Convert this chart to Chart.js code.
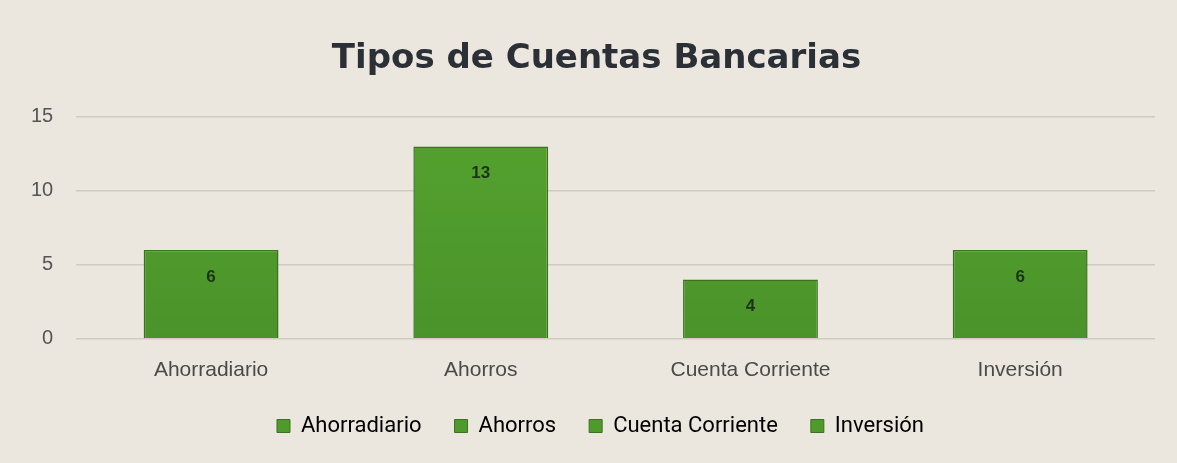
<!DOCTYPE html>
<html>
<head>
<meta charset="utf-8">
<script src="https://cdn.jsdelivr.net/npm/chart.js@4.4.1/dist/chart.umd.min.js"></script>
<style>
  html, body { margin: 0; padding: 0; background: #ebe7de; }
  #wrap { width: 1177px; height: 463px; position: relative; }
</style>
</head>
<body>
<div id="wrap"><canvas id="c" width="1177" height="463"></canvas></div>
<script>
const categories = ["Ahorradiario", "Ahorros", "Cuenta Corriente", "Inversión"];
const cuentas = [6, 13, 4, 6];
const yTicks = [0, 5, 10, 15];
const chartTitle = "Tipos de Cuentas Bancarias";

const GREEN = "#4e9a2b";
const GREEN_DARK = "#3b7120";

const dataLabelPlugin = {
  id: "dataLabels",
  afterDatasetsDraw(chart) {
    const ctx = chart.ctx;
    const meta = chart.getDatasetMeta(0);
    ctx.save();
    ctx.font = "bold 17px 'Liberation Sans', Arial, sans-serif";
    ctx.fillStyle = "#1c3318";
    ctx.textAlign = "center";
    ctx.textBaseline = "middle";
    meta.data.forEach((bar, i) => {
      ctx.fillText(String(cuentas[i]), bar.x, bar.y + 27);
    });
    ctx.restore();
  }
};

// Centre title and legend on the whole page rather than the padded layout box
const recentrePlugin = {
  id: "recentre",
  afterLayout(chart) {
    if (chart.legend) chart.legend.left += 38;
    if (chart.titleBlock) chart.titleBlock.left += 30;
  }
};

new Chart(document.getElementById("c"), {
  type: "bar",
  data: {
    labels: categories,
    datasets: [{
      label: "Cuentas",
      data: cuentas,
      backgroundColor: (c) => {
        const area = c.chart.chartArea;
        if (!area) return GREEN;
        const g = c.chart.ctx.createLinearGradient(0, area.top, 0, area.bottom);
        g.addColorStop(0, "#55a22f");
        g.addColorStop(1, "#4a932a");
        return g;
      },
      borderColor: GREEN_DARK,
      borderWidth: 1.5,
      categoryPercentage: 1.0,
      barPercentage: 0.5
    }]
  },
  options: {
    responsive: false,
    animation: false,
    devicePixelRatio: 1,
    layout: { padding: { top: 20, right: 22, left: 8, bottom: 16 } },
    plugins: {
      title: {
        display: true,
        text: chartTitle,
        color: "#2b2f36",
        font: { family: "'DejaVu Sans', sans-serif", size: 34, weight: "bold" },
        padding: { top: 19, bottom: 37 }
      },
      legend: {
        display: true,
        position: "bottom",
        labels: {
          color: "#3a3a3a",
          font: { family: "Roboto, sans-serif", size: 22 },
          boxWidth: 13,
          boxHeight: 13,
          padding: 33,
          generateLabels: (chart) => categories.map((name, i) => ({
            text: name,
            fillStyle: GREEN,
            strokeStyle: GREEN_DARK,
            lineWidth: 1,
            hidden: false,
            index: i,
            datasetIndex: 0
          }))
        },
        onClick: () => {}
      },
      tooltip: { enabled: false }
    },
    scales: {
      x: {
        grid: { display: false },
        border: { display: false },
        afterFit: (axis) => { axis.height -= 12; },
        ticks: {
          color: "#4a4a4a",
          font: { family: "'Liberation Sans', Arial, sans-serif", size: 21 },
          padding: 11
        }
      },
      y: {
        min: 0,
        max: 15,
        afterBuildTicks: (axis) => { axis.ticks = yTicks.map(v => ({ value: v })); },
        grid: { color: "#d0cbc1", lineWidth: 1.5, drawTicks: false },
        border: { display: false },
        ticks: {
          color: "#555555",
          font: { family: "'Liberation Sans', Arial, sans-serif", size: 20 },
          padding: 23
        }
      }
    }
  },
  plugins: [dataLabelPlugin, recentrePlugin]
});
</script>
</body>
</html>
